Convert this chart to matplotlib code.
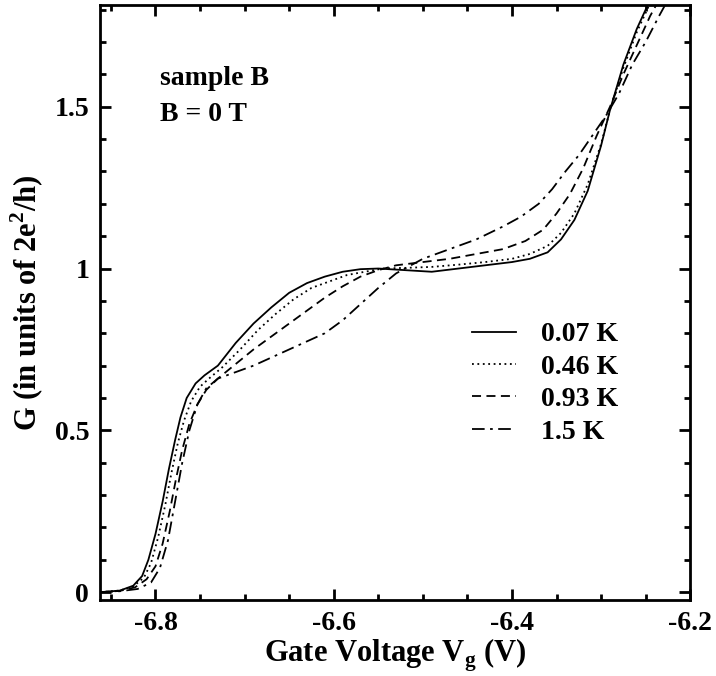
import matplotlib
matplotlib.use("Agg")
import matplotlib.pyplot as plt
from matplotlib.ticker import MultipleLocator, FixedLocator, FixedFormatter

# conductance traces (Vg in V, G in units of 2e^2/h)
vg_007 = [-6.862, -6.84, -6.825, -6.815, -6.808, -6.800, -6.792, -6.785, -6.778, -6.772,
          -6.765, -6.755, -6.745, -6.73, -6.71, -6.69, -6.67, -6.65, -6.63, -6.61,
          -6.59, -6.57, -6.55, -6.52, -6.49, -6.46, -6.43, -6.40, -6.38, -6.36,
          -6.345, -6.33, -6.315, -6.30, -6.29, -6.275, -6.26, -6.245]
g_007 = [0.0, 0.005, 0.02, 0.05, 0.10, 0.18, 0.28, 0.38, 0.47, 0.54,
         0.60, 0.645, 0.67, 0.70, 0.77, 0.83, 0.88, 0.925, 0.955, 0.975,
         0.99, 0.998, 1.0, 0.995, 0.99, 1.0, 1.01, 1.02, 1.03, 1.05,
         1.09, 1.15, 1.24, 1.38, 1.49, 1.63, 1.74, 1.83]

vg_046 = [-6.862, -6.84, -6.825, -6.813, -6.805, -6.797, -6.789, -6.782, -6.775, -6.768,
          -6.76, -6.75, -6.74, -6.725, -6.705, -6.685, -6.665, -6.645, -6.625, -6.605,
          -6.585, -6.565, -6.545, -6.52, -6.49, -6.46, -6.43, -6.40, -6.38, -6.36,
          -6.345, -6.33, -6.315, -6.30, -6.29, -6.275, -6.26, -6.245]
g_046 = [0.0, 0.005, 0.018, 0.045, 0.09, 0.17, 0.27, 0.37, 0.46, 0.53,
         0.59, 0.635, 0.66, 0.695, 0.75, 0.81, 0.86, 0.905, 0.94, 0.96,
         0.98, 0.99, 1.0, 1.002, 1.005, 1.012, 1.02, 1.03, 1.045, 1.07,
         1.11, 1.17, 1.26, 1.385, 1.49, 1.62, 1.73, 1.82]

vg_093 = [-6.862, -6.84, -6.823, -6.81, -6.80, -6.792, -6.784, -6.777, -6.77, -6.762,
          -6.753, -6.743, -6.73, -6.71, -6.69, -6.67, -6.65, -6.63, -6.61, -6.59,
          -6.57, -6.55, -6.53, -6.50, -6.47, -6.44, -6.41, -6.385, -6.365, -6.35,
          -6.335, -6.32, -6.305, -6.29, -6.275, -6.26, -6.245, -6.235]
g_093 = [0.0, 0.004, 0.015, 0.04, 0.08, 0.15, 0.25, 0.35, 0.44, 0.52,
         0.58, 0.625, 0.66, 0.705, 0.75, 0.79, 0.83, 0.87, 0.91, 0.945,
         0.975, 0.995, 1.01, 1.02, 1.03, 1.045, 1.06, 1.085, 1.12, 1.17,
         1.23, 1.31, 1.41, 1.50, 1.60, 1.69, 1.78, 1.83]

vg_15 = [-6.862, -6.84, -6.82, -6.805, -6.795, -6.786, -6.778, -6.77, -6.762, -6.753,
         -6.743, -6.73, -6.71, -6.69, -6.67, -6.65, -6.63, -6.61, -6.59, -6.57,
         -6.55, -6.53, -6.50, -6.47, -6.44, -6.41, -6.39, -6.37, -6.355, -6.34,
         -6.325, -6.31, -6.295, -6.28, -6.265, -6.25, -6.235, -6.225]
g_15 = [0.0, 0.003, 0.01, 0.03, 0.075, 0.16, 0.28, 0.40, 0.50, 0.58,
        0.63, 0.66, 0.68, 0.70, 0.725, 0.75, 0.775, 0.80, 0.84, 0.89,
        0.94, 0.985, 1.03, 1.06, 1.09, 1.13, 1.16, 1.20, 1.245, 1.30,
        1.35, 1.41, 1.47, 1.54, 1.63, 1.70, 1.78, 1.83]

temps = ["0.07 K", "0.46 K", "0.93 K", "1.5 K"]
styles = ["-", (0, (1, 2)), (0, (5, 3)), (0, (7, 3, 1.5, 3))]

plt.rcParams["font.family"] = "Liberation Serif"
plt.rcParams["font.weight"] = "bold"
plt.rcParams["mathtext.fontset"] = "custom"
plt.rcParams["mathtext.rm"] = "Liberation Serif:bold"
plt.rcParams["mathtext.bf"] = "Liberation Serif:bold"

fig = plt.figure(figsize=(7.16, 6.76), dpi=100)
ax = fig.add_axes([0.14, 0.112, 0.824, 0.881])

for (vg, g), lab, ls in zip([(vg_007, g_007), (vg_046, g_046), (vg_093, g_093), (vg_15, g_15)],
                            temps, styles):
    ax.plot(vg, g, color="black", lw=1.3, ls=ls, label=lab)

ax.set_xlim(-6.862, -6.2)
ax.set_ylim(-0.025, 1.815)

ax.xaxis.set_major_locator(FixedLocator([-6.8, -6.6, -6.4, -6.2]))
ax.xaxis.set_major_formatter(FixedFormatter(["-6.8", "-6.6", "-6.4", "-6.2"]))
ax.xaxis.set_minor_locator(MultipleLocator(0.05))
ax.yaxis.set_major_locator(FixedLocator([0, 0.5, 1, 1.5]))
ax.yaxis.set_major_formatter(FixedFormatter(["0", "0.5", "1", "1.5"]))
ax.yaxis.set_minor_locator(MultipleLocator(0.1))
ax.tick_params(which="both", direction="in", top=True, right=True, width=2,
               labelsize=20)
ax.tick_params(axis="x", pad=8)
ax.tick_params(axis="y", pad=8)
ax.tick_params(which="major", length=8)
ax.tick_params(which="minor", length=4)
for s in ax.spines.values():
    s.set_linewidth(2)

ax.set_xlabel("Gate Voltage V$_\\mathrm{g}$ (V)", fontsize=22, fontweight="bold", labelpad=0)
ax.set_ylabel("G (in units of 2e$^\\mathrm{2}$/h)", fontsize=22, fontweight="bold", labelpad=6)

ax.text(0.102, 0.866, "sample B", transform=ax.transAxes, fontsize=20, fontweight="bold")
ax.text(0.102, 0.804, "B = 0 T", transform=ax.transAxes, fontsize=20, fontweight="bold")

ax.legend(loc="upper left", bbox_to_anchor=(0.598, 0.50), frameon=False,
          handlelength=1.55, handletextpad=0.9, labelspacing=0.25, borderpad=0.2,
          prop={"weight": "bold", "size": 20})

fig.savefig("out.png", dpi=100)
